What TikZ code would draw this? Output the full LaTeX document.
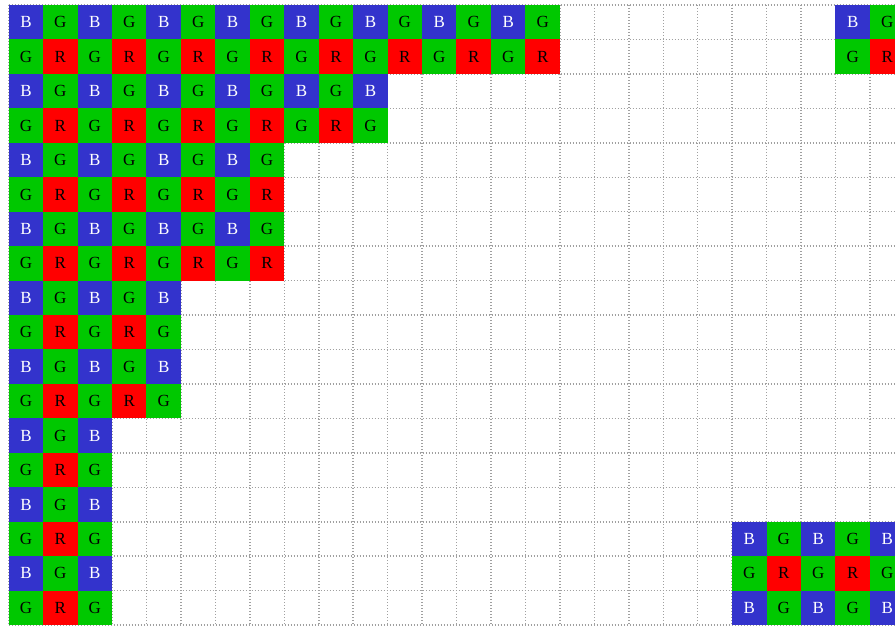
\documentclass[tikz,border=0pt]{standalone}
\usepackage{fontspec}
\setmainfont{Liberation Serif}
\definecolor{bayerB}{RGB}{51,51,204}
\definecolor{bayerG}{RGB}{0,200,0}
\definecolor{bayerR}{RGB}{255,0,0}
\definecolor{gridgray}{RGB}{160,160,160}
\newcommand\cellsz{34.45}
\newcommand\bayercell[4]{%
  \pgfmathtruncatemacro\bpr{mod(#3,2)}%
  \pgfmathtruncatemacro\bpc{mod(#4,2)}%
  \ifnum\bpr=0
    \ifnum\bpc=0 \def\bfl{bayerB}\def\btc{white}\def\btx{B}\else\def\bfl{bayerG}\def\btc{black}\def\btx{G}\fi
  \else
    \ifnum\bpc=1 \def\bfl{bayerR}\def\btc{black}\def\btx{R}\else\def\bfl{bayerG}\def\btc{black}\def\btx{G}\fi
  \fi
  \node[pix, fill=\bfl, text=\btc] (c-#2-#1) at ({8.7+(#1+0.5)*\cellsz},{5+(#2+0.5)*\cellsz}) {\btx};%
}
\begin{document}
\begin{tikzpicture}[x=1pt,y=-1pt,
  pix/.style={minimum width=34.6pt, minimum height=34.6pt, inner sep=0pt, draw=none, font=\fontsize{17}{17}\selectfont},
  gridline/.style={gridgray, line width=1.5pt, dash pattern=on 1.2pt off 1.8pt}]
\useasboundingbox (0,0) rectangle (895,626);
\clip (0,0) rectangle (895,626);
% dotted grid
\foreach \i in {0,...,26} \draw[gridline] ({8.7+\i*\cellsz},5) -- ({8.7+\i*\cellsz},640);
\foreach \j in {0,...,18} \draw[gridline] (8.7,{5+\j*\cellsz}) -- (910,{5+\j*\cellsz});
% staircase of Bayer cells
\foreach \r/\w in {0/16,1/16,2/11,3/11,4/8,5/8,6/8,7/8,8/5,9/5,10/5,11/5,12/3,13/3,14/3,15/3,16/3,17/3}{
  \pgfmathtruncatemacro\wl{\w-1}
  \foreach \c in {0,...,\wl}{\bayercell{\c}{\r}{\r}{\c}}
}
% top-right patch
\foreach \r in {0,1}{\foreach \c in {24,25}{\bayercell{\c}{\r}{\r}{\c}}}
% bottom-right patch
\foreach \r in {15,16,17}{\foreach \c in {21,...,25}{\pgfmathtruncatemacro\lr{\r-15}\pgfmathtruncatemacro\lc{\c-21}\bayercell{\c}{\r}{\lr}{\lc}}}
\end{tikzpicture}
\end{document}
